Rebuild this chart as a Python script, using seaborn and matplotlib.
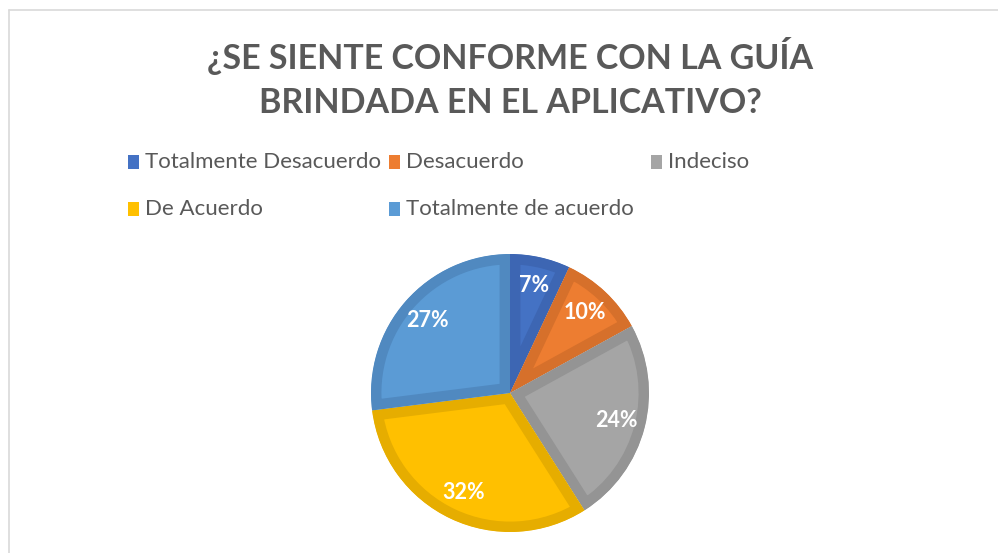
import matplotlib
matplotlib.use("Agg")
import matplotlib.pyplot as plt
import seaborn as sns
from matplotlib.patches import Rectangle
from matplotlib.lines import Line2D

categories = ["Totalmente Desacuerdo", "Desacuerdo", "Indeciso", "De Acuerdo", "Totalmente de acuerdo"]
values = [7, 10, 24, 32, 27]
labels_pct = ["7%", "10%", "24%", "32%", "27%"]
fill_colors = ["#4472C4", "#ED7D31", "#A5A5A5", "#FFC000", "#5B9BD5"]
edge_colors = ["#3D66B3", "#D6702B", "#949494", "#E6AD00", "#5089C0"]
title = "¿SE SIENTE CONFORME CON LA GUÍA\nBRINDADA EN EL APLICATIVO?"

sns.set_theme(style="white")
plt.rcParams["font.family"] = ["Lato", "DejaVu Sans"]

W, H = 998, 553
fig = plt.figure(figsize=(W / 100, H / 100), dpi=100)
fig.patch.set_facecolor("white")

# chart frame
fig.add_artist(Line2D([9 / W, 9 / W], [0, 1 - 10 / H], color="#D9D9D9", lw=1.2, transform=fig.transFigure))
fig.add_artist(Line2D([9 / W, 1], [1 - 10 / H, 1 - 10 / H], color="#D9D9D9", lw=1.2, transform=fig.transFigure))

# title
fig.text(510 / W, 1 - 78 / H, title, ha="center", va="center", fontsize=24.5, fontweight="bold",
         color="#595959", linespacing=1.45)

# legend (manual, Excel-like fixed columns)
leg_pos = [(128, 162), (389, 162), (651, 162), (128, 209), (389, 209)]
for (px, py), cat, col in zip(leg_pos, categories, fill_colors):
    fig.add_artist(Rectangle((px / W, 1 - (py + 7) / H), 11 / W, 14 / H, facecolor=col,
                             edgecolor="none", transform=fig.transFigure))
    fig.text((px + 17) / W, 1 - py / H, cat, ha="left", va="center", fontsize=16, color="#595959")

# pie
cx, cy, r = 510, 393, 139
ax = fig.add_axes([(cx - r) / W, (H - cy - r) / H, 2 * r / W, 2 * r / H])
wedges, texts, autotexts = ax.pie(values, colors=fill_colors, startangle=90, counterclock=False,
                                  labels=None, autopct=lambda p: "", pctdistance=0.79, radius=1.0,
                                  wedgeprops=dict(linewidth=15, joinstyle="miter"))
for w, ec in zip(wedges, edge_colors):
    w.set_edgecolor(ec)
    w.set_clip_on(True)
    w.set_clip_path(w)
for t, lab in zip(autotexts, labels_pct):
    t.set_text(lab)
    t.set_color("white")
    t.set_fontweight("bold")
    t.set_fontsize(15.5)
ax.set_xlim(-1, 1)
ax.set_ylim(-1, 1)
ax.set_aspect("equal")
ax.axis("off")

fig.savefig("out.png", dpi=100, facecolor="white")
